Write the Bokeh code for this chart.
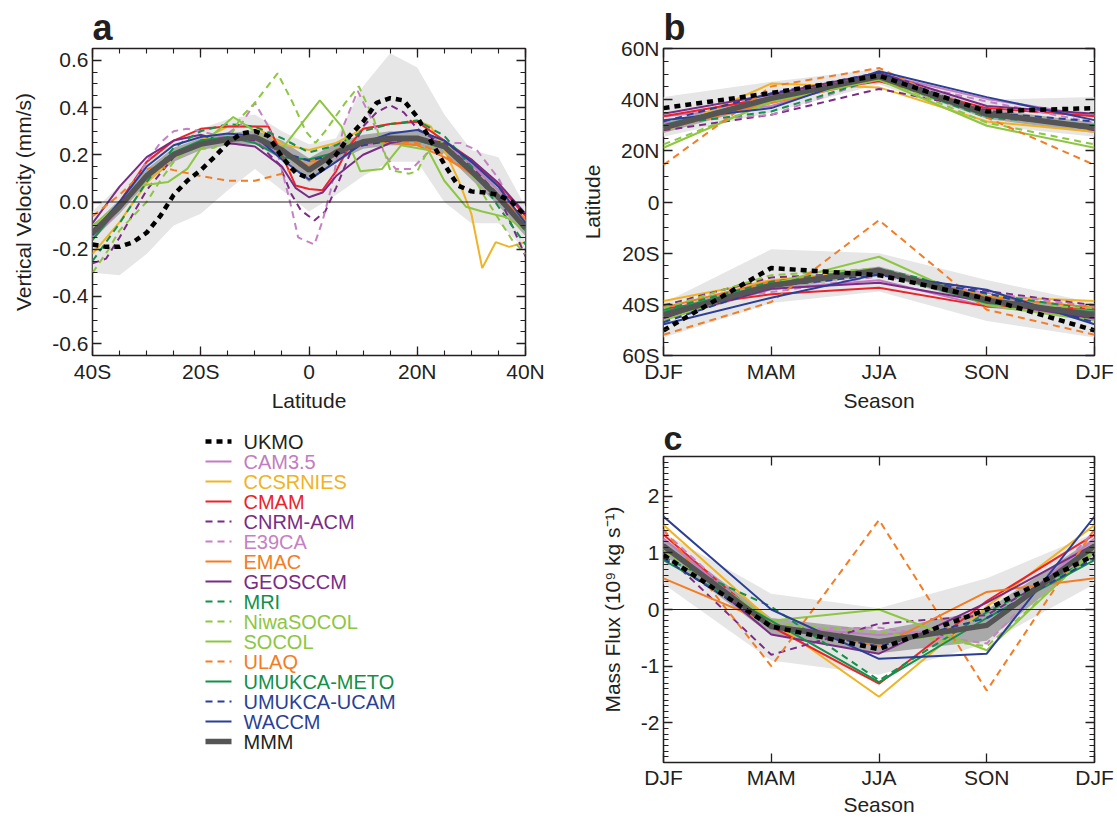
from bokeh.plotting import figure
from bokeh.models import Range1d, FixedTicker, Span, LinearAxis, PrintfTickFormatter
from bokeh.layouts import row, column
from bokeh.core.properties import value
from bokeh.embed import file_html
from bokeh.resources import INLINE

FONT = "Liberation Sans"
INK = "#231f20"

# ---------------- model list and styles ----------------
models = ["UKMO", "CAM3.5", "CCSRNIES", "CMAM", "CNRM-ACM", "E39CA", "EMAC", "GEOSCCM",
          "MRI", "NiwaSOCOL", "SOCOL", "ULAQ", "UMUKCA-METO", "UMUKCA-UCAM", "WACCM", "MMM"]
colors = {"UKMO": "#000000", "CAM3.5": "#c27cc2", "CCSRNIES": "#f0b323", "CMAM": "#ee2229",
          "CNRM-ACM": "#7b2b85", "E39CA": "#c680c4", "EMAC": "#f47c22", "GEOSCCM": "#7b2b85",
          "MRI": "#13904a", "NiwaSOCOL": "#8dc641", "SOCOL": "#8dc641", "ULAQ": "#f47c22",
          "UMUKCA-METO": "#13904a", "UMUKCA-UCAM": "#2b3f96", "WACCM": "#2b3f96", "MMM": "#555555"}
dashed = ["CNRM-ACM", "E39CA", "MRI", "NiwaSOCOL", "ULAQ", "UMUKCA-UCAM"]

# ---------------- panel a: vertical velocity vs latitude ----------------
lat5 = [-40, -35, -30, -25, -20, -15, -10, -5, 0, 5, 10, 15, 20, 25, 30, 35, 40]
a_env_hi = [-0.04, 0.07, 0.18, 0.26, 0.31, 0.35, 0.37, 0.30, 0.245, 0.27, 0.49, 0.63, 0.57, 0.37, 0.22, 0.19, -0.02]
a_env_lo = [-0.30, -0.31, -0.22, -0.10, -0.05, 0.05, 0.14, 0.05, -0.04, 0.03, 0.11, 0.17, 0.17, 0.0, -0.09, -0.09, -0.20]
a_mmm = [-0.13, -0.02, 0.11, 0.20, 0.245, 0.265, 0.275, 0.22, 0.135, 0.21, 0.255, 0.27, 0.27, 0.235, 0.13, 0.02, -0.11]
a_sd = [0.03, 0.03, 0.03, 0.03, 0.025, 0.025, 0.03, 0.04, 0.05, 0.04, 0.03, 0.03, 0.03, 0.03, 0.035, 0.035, 0.035]

a_cam35 = [-0.16, -0.03, 0.11, 0.20, 0.25, 0.27, 0.26, 0.20, 0.15, 0.20, 0.24, 0.26, 0.27, 0.25, 0.16, 0.05, -0.08]
a_waccm = [-0.13, 0.0, 0.15, 0.24, 0.275, 0.29, 0.28, 0.18, 0.095, 0.17, 0.25, 0.29, 0.305, 0.26, 0.17, 0.065, -0.09]
a_emac = [-0.13, -0.03, 0.105, 0.20, 0.245, 0.26, 0.27, 0.22, 0.15, 0.22, 0.26, 0.25, 0.24, 0.19, 0.12, 0.02, -0.07]
a_mri = [-0.25, -0.09, 0.085, 0.23, 0.30, 0.33, 0.32, 0.27, 0.21, 0.24, 0.30, 0.33, 0.345, 0.28, 0.15, -0.02, -0.18]
a_meto = [-0.16, -0.02, 0.12, 0.21, 0.26, 0.275, 0.25, 0.19, 0.18, 0.21, 0.25, 0.26, 0.26, 0.23, 0.13, 0.02, -0.12]
a_ucam = [-0.14, -0.01, 0.12, 0.20, 0.25, 0.27, 0.27, 0.21, 0.175, 0.20, 0.24, 0.26, 0.27, 0.24, 0.14, 0.02, -0.11]

a_ulaq_lat = [-40, -35, -30, -27.5, -25, -20, -15, -10, -5, 0, 5, 10, 15, 20, 25, 30, 35, 40]
a_ulaq = [-0.06, 0.03, 0.14, 0.15, 0.135, 0.11, 0.09, 0.09, 0.12, 0.17, 0.20, 0.25, 0.26, 0.25, 0.20, 0.12, 0.03, -0.08]

a_geos_lat = [-40, -35, -30, -25, -20, -15, -10, -5, -2.5, 0, 2.5, 5, 10, 15, 20, 25, 30, 35, 40]
a_geos = [-0.09, 0.065, 0.19, 0.26, 0.285, 0.25, 0.235, 0.15, 0.06, 0.02, 0.04, 0.11, 0.20, 0.25, 0.27, 0.25, 0.18, 0.08, -0.05]

a_cmam_lat = [-40, -35, -30, -25, -20, -15, -10, -7.5, -5, -2.5, 0, 2.5, 5, 7.5, 10, 15, 20, 25, 30, 35, 40]
a_cmam = [-0.16, 0.0, 0.17, 0.26, 0.31, 0.32, 0.32, 0.32, 0.20, 0.07, 0.055, 0.05, 0.13, 0.24, 0.31, 0.33, 0.34, 0.26, 0.18, 0.07, -0.06]

a_ccsr_lat = [-40, -35, -30, -25, -20, -15, -10, -5, 0, 5, 10, 15, 20, 22.5, 25, 27.5, 30, 32, 34.5, 37, 40]
a_ccsr = [-0.22, -0.085, 0.08, 0.19, 0.26, 0.32, 0.32, 0.245, 0.22, 0.25, 0.31, 0.33, 0.345, 0.32, 0.22, 0.10, -0.05, -0.28, -0.17, -0.19, -0.17]

a_e39_lat = [-40, -35, -30, -27.5, -25, -22.5, -20, -16, -12.5, -10, -7.5, -5.5, -3.5, -2, 1, 2.5, 4, 6.5, 9, 12, 14, 16, 19, 22, 25, 28, 31, 35, 40]
a_e39 = [-0.15, -0.02, 0.17, 0.25, 0.30, 0.31, 0.30, 0.275, 0.33, 0.42, 0.32, 0.18, 0.0, -0.15, -0.18, -0.08, 0.05, 0.33, 0.47, 0.33, 0.20, 0.14, 0.14, 0.21, 0.25, 0.25, 0.22, 0.10, -0.12]

a_cnrm_lat = [-40, -37.5, -35, -30, -25, -20, -15, -10, -5.5, -3.3, -1.5, 1, 3, 5, 7.5, 10, 12.5, 15, 17.5, 20, 25, 30, 35, 40]
a_cnrm = [-0.26, -0.24, -0.15, 0.05, 0.19, 0.26, 0.27, 0.26, 0.16, 0.035, -0.035, -0.078, -0.04, 0.06, 0.20, 0.32, 0.38, 0.41, 0.38, 0.31, 0.24, 0.15, 0.03, -0.23]

a_niwa_lat = [-40, -37, -35, -30, -27.5, -25, -22.5, -17.5, -15, -12.5, -10, -5.8, -3, -0.6, 1.2, 3, 6.7, 9.2, 12, 15, 18.5, 20, 22, 25, 30, 32.5, 35, 37.5, 40]
a_niwa = [-0.30, -0.20, -0.12, 0.0, 0.09, 0.17, 0.22, 0.23, 0.26, 0.36, 0.42, 0.545, 0.42, 0.30, 0.25, 0.30, 0.42, 0.49, 0.35, 0.135, 0.12, 0.13, 0.22, 0.26, 0.12, 0.02, -0.07, -0.16, -0.22]

a_socol_lat = [-40, -35, -31, -26, -22.5, -19, -14, -10, -5.5, 2, 6, 9.5, 13.5, 17, 22, 25, 29, 32, 36.5, 40]
a_socol = [-0.10, -0.01, 0.07, 0.085, 0.14, 0.26, 0.36, 0.30, 0.21, 0.43, 0.32, 0.13, 0.14, 0.24, 0.22, 0.09, -0.02, -0.04, -0.065, -0.12]

a_ukmo_lat = [-40, -37.5, -35, -32.5, -30, -27.5, -25, -22.5, -20, -17.5, -15, -12.5, -10, -7.5, -5, -2.5, 0,
              2.5, 5, 7.5, 10, 12.5, 15, 17.5, 20, 22.5, 25, 27.5, 30, 32.5, 35, 37.5, 40]
a_ukmo = [-0.18, -0.19, -0.19, -0.17, -0.13, -0.06, 0.03, 0.09, 0.135, 0.19, 0.25, 0.29, 0.30, 0.28, 0.19, 0.125, 0.10,
          0.14, 0.20, 0.28, 0.34, 0.42, 0.44, 0.43, 0.36, 0.26, 0.16, 0.07, 0.045, 0.04, 0.03, 0.0, -0.06]

panel_a = {
    "CAM3.5": (lat5, a_cam35), "CCSRNIES": (a_ccsr_lat, a_ccsr), "CMAM": (a_cmam_lat, a_cmam),
    "CNRM-ACM": (a_cnrm_lat, a_cnrm), "E39CA": (a_e39_lat, a_e39), "EMAC": (lat5, a_emac),
    "GEOSCCM": (a_geos_lat, a_geos), "MRI": (lat5, a_mri), "NiwaSOCOL": (a_niwa_lat, a_niwa),
    "SOCOL": (a_socol_lat, a_socol), "ULAQ": (a_ulaq_lat, a_ulaq), "UMUKCA-METO": (lat5, a_meto),
    "UMUKCA-UCAM": (lat5, a_ucam), "WACCM": (lat5, a_waccm), "MMM": (lat5, a_mmm), "UKMO": (a_ukmo_lat, a_ukmo),
}

# ---------------- panel b: turnaround latitudes by season ----------------
seasons = ["DJF", "MAM", "JJA", "SON", "DJF"]
season_x = [0, 1, 2, 3, 4]
b_nh = {
    "UKMO": [36.7, 42.6, 49.4, 35.4, 36.7], "CAM3.5": [33.5, 37.5, 50.0, 40.3, 33.5],
    "CCSRNIES": [27.5, 46.3, 44.8, 31.5, 27.5], "CMAM": [33.5, 40.7, 47.2, 36.7, 33.5],
    "CNRM-ACM": [28.0, 34.1, 44.2, 36.0, 28.0], "E39CA": [31.0, 34.1, 48.5, 39.3, 31.0],
    "EMAC": [28.5, 38.7, 48.0, 34.0, 28.5], "GEOSCCM": [34.5, 42.0, 50.5, 37.5, 34.5],
    "MRI": [30.0, 35.4, 48.5, 33.0, 30.0], "NiwaSOCOL": [22.5, 39.0, 48.5, 31.0, 22.5],
    "SOCOL": [21.2, 39.4, 47.8, 29.8, 21.2], "ULAQ": [14.5, 45.2, 52.4, 33.0, 14.5],
    "UMUKCA-METO": [30.0, 41.0, 48.5, 33.5, 30.0], "UMUKCA-UCAM": [31.5, 42.5, 50.5, 35.0, 31.5],
    "WACCM": [32.0, 36.7, 51.1, 41.0, 32.0], "MMM": [29.0, 40.5, 49.0, 34.5, 29.0],
}
b_sh = {
    "UKMO": [-50.2, -25.8, -28.6, -37.8, -50.2], "CAM3.5": [-45.0, -34.0, -30.6, -40.8, -45.0],
    "CCSRNIES": [-38.7, -30.6, -26.5, -36.9, -38.7], "CMAM": [-41.7, -36.1, -33.5, -40.8, -41.7],
    "CNRM-ACM": [-40.4, -29.5, -27.5, -34.8, -40.4], "E39CA": [-41.0, -35.2, -29.0, -35.5, -41.0],
    "EMAC": [-41.3, -31.0, -27.0, -37.0, -41.3], "GEOSCCM": [-45.6, -33.9, -31.6, -39.0, -45.6],
    "MRI": [-42.1, -31.2, -26.0, -36.0, -42.1], "NiwaSOCOL": [-41.5, -28.6, -26.0, -39.5, -41.5],
    "SOCOL": [-46.3, -32.0, -21.4, -40.4, -46.3], "ULAQ": [-51.9, -39.1, -7.1, -42.1, -51.9],
    "UMUKCA-METO": [-43.0, -31.9, -27.5, -39.5, -43.0], "UMUKCA-UCAM": [-47.0, -33.0, -28.5, -35.5, -47.0],
    "WACCM": [-47.8, -37.4, -28.2, -34.3, -47.8], "MMM": [-44.3, -32.6, -26.7, -38.4, -44.3],
}
b_nh_env_hi = [41.0, 47.0, 52.0, 40.0, 41.0]
b_nh_env_lo = [25.5, 35.0, 46.0, 30.0, 25.5]
b_sh_env_hi = [-39.5, -18.5, -20.0, -30.5, -39.5]
b_sh_env_lo = [-53.0, -39.5, -35.0, -46.5, -53.0]
b_sd = [2.0, 2.0, 1.5, 2.0, 2.0]

# ---------------- panel c: mass flux by season ----------------
c_flux = {
    "UKMO": [0.96, -0.30, -0.70, 0.0, 0.96], "CAM3.5": [1.25, -0.30, -0.45, -0.30, 1.25],
    "CCSRNIES": [1.49, -0.20, -1.54, 0.05, 1.49], "CMAM": [1.32, -0.30, -1.31, 0.15, 1.32],
    "CNRM-ACM": [1.00, -0.80, -0.25, -0.10, 1.00], "E39CA": [1.38, -0.35, -0.32, -0.60, 1.38],
    "EMAC": [0.55, -0.25, -0.65, 0.31, 0.55], "GEOSCCM": [1.15, -0.44, -0.78, 0.12, 1.15],
    "MRI": [0.92, 0.05, -1.25, -0.05, 0.92], "NiwaSOCOL": [1.03, -0.25, -0.40, -0.65, 1.03],
    "SOCOL": [1.07, -0.20, 0.0, -0.72, 1.07], "ULAQ": [1.42, -1.00, 1.58, -1.43, 1.42],
    "UMUKCA-METO": [0.87, -0.20, -1.28, -0.15, 0.87], "UMUKCA-UCAM": [0.90, -0.30, -0.65, -0.15, 0.90],
    "WACCM": [1.64, 0.0, -0.87, -0.78, 1.64], "MMM": [1.12, -0.30, -0.57, -0.28, 1.12],
}
c_env_hi = [1.35, 0.28, 0.02, 0.55, 1.35]
c_env_lo = [0.45, -0.90, -1.15, -0.60, 0.45]
c_sd = [0.15, 0.15, 0.20, 0.27, 0.15]


def line_style(name):
    if name == "UKMO":
        return dict(line_color="#000000", line_width=4.5, line_dash="6 5")
    if name == "MMM":
        return dict(line_color=colors[name], line_width=5.5, line_dash="solid")
    return dict(line_color=colors[name], line_width=2, line_dash="7 5" if name in dashed else "solid")


def style_axis(ax, ticks, minor, show=True, overrides=None, fmt=None, label=None):
    ax.ticker = FixedTicker(ticks=ticks, minor_ticks=minor)
    ax.major_tick_in = 9
    ax.major_tick_out = 0
    ax.minor_tick_in = 5
    ax.minor_tick_out = 0
    ax.major_tick_line_color = INK
    ax.minor_tick_line_color = INK
    ax.major_tick_line_width = 1.3
    ax.minor_tick_line_width = 1.1
    ax.axis_line_color = None
    if show:
        ax.major_label_text_font = FONT
        ax.major_label_text_font_size = "21px"
        ax.major_label_text_color = INK
        ax.major_label_standoff = 4
        if overrides is not None:
            ax.major_label_overrides = overrides
        if fmt is not None:
            ax.formatter = fmt
        if label is not None:
            ax.axis_label = label
            ax.axis_label_text_font = FONT
            ax.axis_label_text_font_size = "21px"
            ax.axis_label_text_font_style = "normal"
            ax.axis_label_text_color = INK
            ax.axis_label_standoff = 3
    else:
        ax.major_label_text_font_size = "1px"
        ax.major_label_text_color = None
        ax.major_label_standoff = 0


def make_fig(w, h, xr, yr, bl, br, bt, bb, letter, letter_size, letter_gap):
    p = figure(width=w, height=h, x_range=Range1d(*xr), y_range=Range1d(*yr), title=letter,
               output_backend="svg", toolbar_location=None,
               min_border_left=bl, min_border_right=br, min_border_top=bt, min_border_bottom=bb)
    p.xgrid.visible = False
    p.ygrid.visible = False
    p.outline_line_color = INK
    p.outline_line_width = 1.5
    p.background_fill_color = "white"
    p.border_fill_color = "white"
    p.title.text_font = FONT
    p.title.text_font_size = letter_size
    p.title.text_font_style = "bold"
    p.title.text_color = INK
    p.title.align = "left"
    p.title.standoff = letter_gap
    return p


def frange(a, b, step):
    out = []
    n = int(round((b - a) / step))
    for i in range(n + 1):
        out.append(round(a + i * step, 4))
    return out


# ---------------- panel a ----------------
pa = make_fig(560, 415, (-40, 40), (-0.65, 0.65), 92, 35, 48, 60, "a", "36px", 2)
pa.varea(x=lat5, y1=a_env_lo, y2=a_env_hi, fill_color="#e6e6e6")
pa.varea(x=lat5, y1=[m - s for m, s in zip(a_mmm, a_sd)], y2=[m + s for m, s in zip(a_mmm, a_sd)],
         fill_color="#a9a9a9")
pa.add_layout(Span(location=0, dimension="width", line_color=INK, line_width=1.2, level="glyph"))
for name in models:
    if name in ("UKMO", "MMM"):
        continue
    xs, ys = panel_a[name]
    pa.line(x=xs, y=ys, **line_style(name))
pa.line(x=panel_a["MMM"][0], y=panel_a["MMM"][1], **line_style("MMM"))
pa.line(x=panel_a["UKMO"][0], y=panel_a["UKMO"][1], **line_style("UKMO"))

a_xticks = [-40, -20, 0, 20, 40]
a_xlabels = {-40: "40S", -20: "20S", 0: "0", 20: "20N", 40: "40N"}
a_xminor = frange(-40, 40, 5)
a_yticks = [-0.6, -0.4, -0.2, 0.0, 0.2, 0.4, 0.6]
a_yminor = frange(-0.65, 0.65, 0.05)
style_axis(pa.xaxis[0], a_xticks, a_xminor, overrides=a_xlabels, label="Latitude")
style_axis(pa.yaxis[0], a_yticks, a_yminor, fmt=PrintfTickFormatter(format="%.1f"),
           label="Vertical Velocity (mm/s)")
pa.yaxis[0].axis_label_standoff = 14
ta = LinearAxis()
style_axis(ta, a_xticks, a_xminor, show=False)
pa.add_layout(ta, "above")
ra = LinearAxis()
style_axis(ra, a_yticks, a_yminor, show=False)
pa.add_layout(ra, "right")

# ---------------- panel b ----------------
pb = make_fig(554, 415, (0, 4), (-60, 60), 103, 20, 48, 60, "b", "36px", 2)
pb.varea(x=season_x, y1=b_nh_env_lo, y2=b_nh_env_hi, fill_color="#e6e6e6")
pb.varea(x=season_x, y1=b_sh_env_lo, y2=b_sh_env_hi, fill_color="#e6e6e6")
pb.varea(x=season_x, y1=[m - s for m, s in zip(b_nh["MMM"], b_sd)],
         y2=[m + s for m, s in zip(b_nh["MMM"], b_sd)], fill_color="#a9a9a9")
pb.varea(x=season_x, y1=[m - s for m, s in zip(b_sh["MMM"], b_sd)],
         y2=[m + s for m, s in zip(b_sh["MMM"], b_sd)], fill_color="#a9a9a9")
order = [m for m in models if m not in ("UKMO", "MMM")] + ["MMM", "UKMO"]
for name in order:
    pb.line(x=season_x, y=b_nh[name], **line_style(name))
    pb.line(x=season_x, y=b_sh[name], **line_style(name))

s_labels = {i: s for i, s in zip(season_x, seasons)}
b_yticks = [-60, -40, -20, 0, 20, 40, 60]
b_ylabels = {-60: "60S", -40: "40S", -20: "20S", 0: "0", 20: "20N", 40: "40N", 60: "60N"}
b_yminor = frange(-60, 60, 5)
style_axis(pb.xaxis[0], season_x, [], overrides=s_labels, label="Season")
style_axis(pb.yaxis[0], b_yticks, b_yminor, overrides=b_ylabels, label="Latitude")
pb.yaxis[0].axis_label_standoff = 14
tb = LinearAxis()
style_axis(tb, season_x, [], show=False)
pb.add_layout(tb, "above")
rb = LinearAxis()
style_axis(rb, b_yticks, b_yminor, show=False)
pb.add_layout(rb, "right")

# ---------------- panel c ----------------
pc = make_fig(554, 408, (0, 4), (-2.7, 2.7), 103, 20, 41, 61, "c", "34px", 0)
pc.varea(x=season_x, y1=c_env_lo, y2=c_env_hi, fill_color="#e6e6e6")
pc.varea(x=season_x, y1=[m - s for m, s in zip(c_flux["MMM"], c_sd)],
         y2=[m + s for m, s in zip(c_flux["MMM"], c_sd)], fill_color="#a9a9a9")
pc.add_layout(Span(location=0, dimension="width", line_color=INK, line_width=1.2, level="glyph"))
for name in order:
    pc.line(x=season_x, y=c_flux[name], **line_style(name))

c_yticks = [-2, -1, 0, 1, 2]
c_yminor = frange(-2.7, 2.7, 0.1)
style_axis(pc.xaxis[0], season_x, [], overrides=s_labels, label="Season")
pc.xaxis[0].axis_label_standoff = 1
pc.xaxis[0].major_label_standoff = 3
style_axis(pc.yaxis[0], c_yticks, c_yminor, fmt=PrintfTickFormatter(format="%d"),
           label="Mass Flux (10\u2079 kg s\u207b\u00b9)")
pc.yaxis[0].axis_label_standoff = 14
tc = LinearAxis()
style_axis(tc, season_x, [], show=False)
pc.add_layout(tc, "above")
rc = LinearAxis()
style_axis(rc, c_yticks, c_yminor, show=False)
pc.add_layout(rc, "right")

# ---------------- legend panel (x in page pixels, y in pixels from the panel top) ----------------
pl = figure(width=560, height=408, x_range=Range1d(92, 525), y_range=Range1d(408, 0), title=None,
            output_backend="svg", toolbar_location=None,
            min_border_left=92, min_border_right=35, min_border_top=0, min_border_bottom=0,
            x_axis_location=None, y_axis_location=None)
pl.xgrid.visible = False
pl.ygrid.visible = False
pl.outline_line_color = None
pl.border_fill_color = "white"
row_y = [26 + 20 * i for i in range(len(models))]
for name, y in zip(models, row_y):
    pl.segment(x0=[205], y0=[y], x1=[231], y1=[y], **line_style(name))
text_colors = [INK if m in ("UKMO", "MMM") else colors[m] for m in models]
pl.text(x=[243] * len(models), y=row_y, text=models, text_color=text_colors,
        text_font=value(FONT), text_font_size=value("20px"), text_baseline="middle", text_align="left")

layout = row(column(pa, pl), column(pb, pc))
open("out.html", "w").write(file_html(layout, INLINE))
